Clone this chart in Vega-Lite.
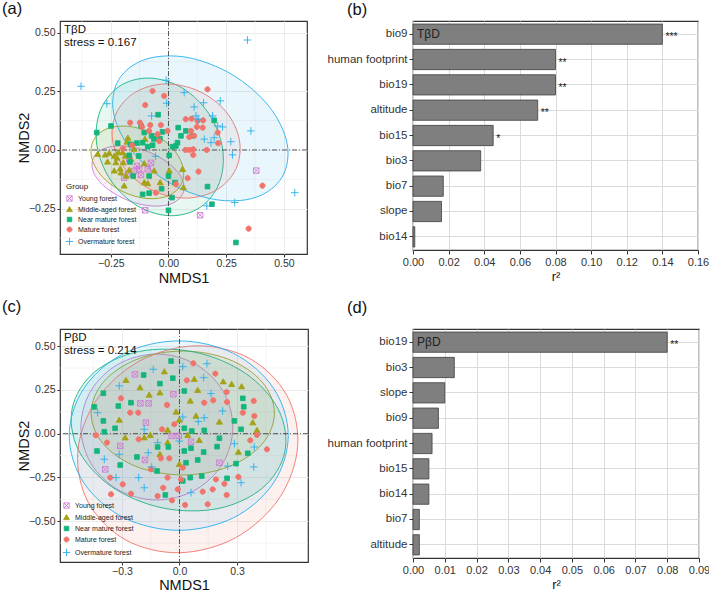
{
"$schema": "https://vega.github.io/schema/vega-lite/v6.json",
"padding": {"left": 1, "top": 0, "right": 0, "bottom": 0},
"background": "white",
"bounds": "flush",
"columns": 2,
"spacing": {"row": 75, "column": 105},
"config": {
  "font": "Liberation Sans",
  "view": {"stroke": "#333333", "strokeWidth": 1.2},
  "axis": {"domain": false, "tickColor": "#333333", "labelColor": "#333333", "titleColor": "#111111", "gridColor": "#EBEBEB", "titleFontWeight": "normal", "labelOverlap": false},
  "title": {"font": "Liberation Sans", "fontWeight": "normal", "color": "#111111"}
},
"resolve": {
  "scale": {"x": "independent", "y": "independent", "fill": "independent", "stroke": "independent", "shape": "independent"},
  "legend": {"fill": "independent", "stroke": "independent", "shape": "independent"}
},
"datasets": {
  "minorA": [{"m": -0.375}, {"m": -0.125}, {"m": 0.125}, {"m": 0.375}],
  "minorCx": [{"m": -0.45}, {"m": -0.15}, {"m": 0.15}, {"m": 0.45}],
  "minorCy": [{"m": -0.625}, {"m": -0.375}, {"m": -0.125}, {"m": 0.125}, {"m": 0.375}],
  "ellA": [
    {"g":"Young forest","i":0,"x":0.063,"y":-0.184},{"g":"Young forest","i":1,"x":0.017,"y":-0.227},{"g":"Young forest","i":2,"x":-0.069,"y":-0.239},{"g":"Young forest","i":3,"x":-0.172,"y":-0.216},{"g":"Young forest","i":4,"x":-0.265,"y":-0.165},{"g":"Young forest","i":5,"x":-0.322,"y":-0.101},{"g":"Young forest","i":6,"x":-0.327,"y":-0.038},{"g":"Young forest","i":7,"x":-0.281,"y":0.005},{"g":"Young forest","i":8,"x":-0.195,"y":0.017},{"g":"Young forest","i":9,"x":-0.092,"y":-0.006},{"g":"Young forest","i":10,"x":0.001,"y":-0.057},{"g":"Young forest","i":11,"x":0.058,"y":-0.121},
    {"g":"Middle-aged forest","i":0,"x":0.056,"y":-0.145},{"g":"Middle-aged forest","i":1,"x":0.0,"y":-0.195},{"g":"Middle-aged forest","i":2,"x":-0.093,"y":-0.207},{"g":"Middle-aged forest","i":3,"x":-0.197,"y":-0.178},{"g":"Middle-aged forest","i":4,"x":-0.285,"y":-0.116},{"g":"Middle-aged forest","i":5,"x":-0.332,"y":-0.036},{"g":"Middle-aged forest","i":6,"x":-0.326,"y":0.039},{"g":"Middle-aged forest","i":7,"x":-0.27,"y":0.089},{"g":"Middle-aged forest","i":8,"x":-0.177,"y":0.101},{"g":"Middle-aged forest","i":9,"x":-0.073,"y":0.072},{"g":"Middle-aged forest","i":10,"x":0.015,"y":0.01},{"g":"Middle-aged forest","i":11,"x":0.062,"y":-0.07},
    {"g":"Near mature forest","i":0,"x":0.138,"y":-0.244},{"g":"Near mature forest","i":1,"x":0.008,"y":-0.28},{"g":"Near mature forest","i":2,"x":-0.135,"y":-0.238},{"g":"Near mature forest","i":3,"x":-0.251,"y":-0.128},{"g":"Near mature forest","i":4,"x":-0.31,"y":0.019},{"g":"Near mature forest","i":5,"x":-0.297,"y":0.164},{"g":"Near mature forest","i":6,"x":-0.214,"y":0.27},{"g":"Near mature forest","i":7,"x":-0.084,"y":0.306},{"g":"Near mature forest","i":8,"x":0.059,"y":0.264},{"g":"Near mature forest","i":9,"x":0.175,"y":0.154},{"g":"Near mature forest","i":10,"x":0.234,"y":0.007},{"g":"Near mature forest","i":11,"x":0.221,"y":-0.138},
    {"g":"Mature forest","i":0,"x":0.293,"y":-0.079},{"g":"Mature forest","i":1,"x":0.209,"y":-0.17},{"g":"Mature forest","i":2,"x":0.078,"y":-0.205},{"g":"Mature forest","i":3,"x":-0.066,"y":-0.174},{"g":"Mature forest","i":4,"x":-0.183,"y":-0.087},{"g":"Mature forest","i":5,"x":-0.241,"y":0.033},{"g":"Mature forest","i":6,"x":-0.227,"y":0.155},{"g":"Mature forest","i":7,"x":-0.143,"y":0.246},{"g":"Mature forest","i":8,"x":-0.012,"y":0.281},{"g":"Mature forest","i":9,"x":0.132,"y":0.25},{"g":"Mature forest","i":10,"x":0.249,"y":0.163},{"g":"Mature forest","i":11,"x":0.307,"y":0.043},
    {"g":"Overmature forest","i":0,"x":0.492,"y":-0.116},{"g":"Overmature forest","i":1,"x":0.375,"y":-0.203},{"g":"Overmature forest","i":2,"x":0.195,"y":-0.21},{"g":"Overmature forest","i":3,"x":-0.001,"y":-0.137},{"g":"Overmature forest","i":4,"x":-0.159,"y":-0.003},{"g":"Overmature forest","i":5,"x":-0.238,"y":0.157},{"g":"Overmature forest","i":6,"x":-0.216,"y":0.299},{"g":"Overmature forest","i":7,"x":-0.099,"y":0.386},{"g":"Overmature forest","i":8,"x":0.081,"y":0.394},{"g":"Overmature forest","i":9,"x":0.277,"y":0.32},{"g":"Overmature forest","i":10,"x":0.435,"y":0.186},{"g":"Overmature forest","i":11,"x":0.514,"y":0.027}
  ],
  "ptsA": [
    {"g":"Young forest","x":-0.09,"y":-0.082},{"g":"Young forest","x":-0.119,"y":-0.106},{"g":"Young forest","x":-0.148,"y":-0.089},{"g":"Young forest","x":-0.177,"y":-0.103},{"g":"Young forest","x":-0.192,"y":-0.118},{"g":"Young forest","x":-0.17,"y":-0.04},{"g":"Young forest","x":-0.127,"y":-0.082},{"g":"Young forest","x":-0.101,"y":-0.257},{"g":"Young forest","x":0.137,"y":-0.278},{"g":"Young forest","x":0.38,"y":-0.088},{"g":"Young forest","x":-0.076,"y":-0.055},{"g":"Young forest","x":-0.137,"y":-0.068},
    {"g":"Middle-aged forest","x":-0.18,"y":0.034},{"g":"Middle-aged forest","x":-0.218,"y":-0.011},{"g":"Middle-aged forest","x":-0.199,"y":-0.011},{"g":"Middle-aged forest","x":-0.257,"y":-0.014},{"g":"Middle-aged forest","x":-0.235,"y":-0.026},{"g":"Middle-aged forest","x":-0.223,"y":-0.034},{"g":"Middle-aged forest","x":-0.187,"y":-0.026},{"g":"Middle-aged forest","x":-0.264,"y":-0.051},{"g":"Middle-aged forest","x":-0.228,"y":-0.054},{"g":"Middle-aged forest","x":-0.196,"y":-0.054},{"g":"Middle-aged forest","x":-0.163,"y":-0.04},{"g":"Middle-aged forest","x":-0.209,"y":-0.08},{"g":"Middle-aged forest","x":-0.235,"y":-0.089},{"g":"Middle-aged forest","x":-0.206,"y":-0.097},{"g":"Middle-aged forest","x":-0.17,"y":-0.086},{"g":"Middle-aged forest","x":-0.062,"y":-0.089},{"g":"Middle-aged forest","x":-0.184,"y":-0.111},{"g":"Middle-aged forest","x":-0.105,"y":-0.139},{"g":"Middle-aged forest","x":-0.036,"y":-0.139},{"g":"Middle-aged forest","x":-0.192,"y":-0.153},{"g":"Middle-aged forest","x":-0.307,"y":-0.018},{"g":"Middle-aged forest","x":-0.274,"y":-0.021},{"g":"Middle-aged forest","x":-0.176,"y":0.051},{"g":"Middle-aged forest","x":-0.102,"y":0.046},{"g":"Middle-aged forest","x":-0.105,"y":-0.058},{"g":"Middle-aged forest","x":-0.09,"y":-0.143},{"g":"Middle-aged forest","x":0.061,"y":-0.082},{"g":"Middle-aged forest","x":0.065,"y":-0.16},{"g":"Middle-aged forest","x":0.003,"y":-0.089},{"g":"Middle-aged forest","x":-0.15,"y":0.004},
    {"g":"Near mature forest","x":-0.311,"y":0.074},{"g":"Near mature forest","x":-0.249,"y":0.102},{"g":"Near mature forest","x":-0.045,"y":0.15},{"g":"Near mature forest","x":-0.119,"y":0.102},{"g":"Near mature forest","x":-0.073,"y":0.06},{"g":"Near mature forest","x":-0.063,"y":0.047},{"g":"Near mature forest","x":-0.105,"y":0.074},{"g":"Near mature forest","x":-0.026,"y":0.077},{"g":"Near mature forest","x":-0.037,"y":0.048},{"g":"Near mature forest","x":-0.163,"y":0.024},{"g":"Near mature forest","x":-0.137,"y":0.029},{"g":"Near mature forest","x":-0.112,"y":0.031},{"g":"Near mature forest","x":-0.09,"y":0.014},{"g":"Near mature forest","x":-0.069,"y":0.02},{"g":"Near mature forest","x":-0.22,"y":0.029},{"g":"Near mature forest","x":-0.17,"y":-0.023},{"g":"Near mature forest","x":-0.129,"y":-0.026},{"g":"Near mature forest","x":0.003,"y":-0.023},{"g":"Near mature forest","x":-0.167,"y":-0.051},{"g":"Near mature forest","x":-0.153,"y":-0.111},{"g":"Near mature forest","x":-0.084,"y":-0.111},{"g":"Near mature forest","x":-0.112,"y":-0.189},{"g":"Near mature forest","x":-0.084,"y":-0.184},{"g":"Near mature forest","x":-0.03,"y":-0.165},{"g":"Near mature forest","x":0.015,"y":-0.203},{"g":"Near mature forest","x":0.0,"y":-0.257},{"g":"Near mature forest","x":0.0,"y":-0.111},{"g":"Near mature forest","x":0.198,"y":0.126},{"g":"Near mature forest","x":0.042,"y":0.095},{"g":"Near mature forest","x":0.075,"y":0.081},{"g":"Near mature forest","x":0.104,"y":0.06},{"g":"Near mature forest","x":0.054,"y":0.06},{"g":"Near mature forest","x":0.039,"y":0.031},{"g":"Near mature forest","x":0.018,"y":0.014},{"g":"Near mature forest","x":0.032,"y":0.017},{"g":"Near mature forest","x":0.028,"y":-0.139},{"g":"Near mature forest","x":0.169,"y":-0.156},{"g":"Near mature forest","x":0.188,"y":-0.231},{"g":"Near mature forest","x":0.292,"y":-0.394},
    {"g":"Mature forest","x":-0.069,"y":0.251},{"g":"Mature forest","x":-0.019,"y":0.23},{"g":"Mature forest","x":0.169,"y":0.258},{"g":"Mature forest","x":-0.101,"y":0.191},{"g":"Mature forest","x":-0.166,"y":0.116},{"g":"Mature forest","x":-0.124,"y":0.116},{"g":"Mature forest","x":-0.079,"y":0.106},{"g":"Mature forest","x":-0.033,"y":0.106},{"g":"Mature forest","x":-0.115,"y":0.098},{"g":"Mature forest","x":-0.047,"y":0.067},{"g":"Mature forest","x":-0.004,"y":0.081},{"g":"Mature forest","x":-0.197,"y":0.006},{"g":"Mature forest","x":-0.158,"y":0.02},{"g":"Mature forest","x":-0.084,"y":0.081},{"g":"Mature forest","x":-0.055,"y":-0.182},{"g":"Mature forest","x":0.032,"y":-0.146},{"g":"Mature forest","x":0.075,"y":0.131},{"g":"Mature forest","x":0.1,"y":0.133},{"g":"Mature forest","x":0.126,"y":0.123},{"g":"Mature forest","x":0.15,"y":0.126},{"g":"Mature forest","x":0.097,"y":0.081},{"g":"Mature forest","x":0.123,"y":0.098},{"g":"Mature forest","x":0.148,"y":0.095},{"g":"Mature forest","x":0.09,"y":0.055},{"g":"Mature forest","x":0.111,"y":0.06},{"g":"Mature forest","x":0.213,"y":0.074},{"g":"Mature forest","x":0.215,"y":0.029},{"g":"Mature forest","x":0.074,"y":0.0},{"g":"Mature forest","x":0.09,"y":0.0},{"g":"Mature forest","x":0.107,"y":0.003},{"g":"Mature forest","x":0.166,"y":0.0},{"g":"Mature forest","x":0.107,"y":-0.021},{"g":"Mature forest","x":0.13,"y":-0.092},{"g":"Mature forest","x":0.083,"y":-0.12},{"g":"Mature forest","x":0.407,"y":-0.152},{"g":"Mature forest","x":0.347,"y":-0.335},{"g":"Mature forest","x":-0.04,"y":0.038},
    {"g":"Overmature forest","x":0.342,"y":0.468},{"g":"Overmature forest","x":-0.379,"y":0.271},{"g":"Overmature forest","x":-0.267,"y":0.197},{"g":"Overmature forest","x":-0.01,"y":0.297},{"g":"Overmature forest","x":-0.008,"y":0.199},{"g":"Overmature forest","x":0.068,"y":0.244},{"g":"Overmature forest","x":-0.073,"y":0.145},{"g":"Overmature forest","x":0.111,"y":0.183},{"g":"Overmature forest","x":0.152,"y":0.201},{"g":"Overmature forest","x":0.224,"y":0.209},{"g":"Overmature forest","x":0.119,"y":0.145},{"g":"Overmature forest","x":0.129,"y":0.131},{"g":"Overmature forest","x":0.191,"y":0.145},{"g":"Overmature forest","x":0.213,"y":0.102},{"g":"Overmature forest","x":0.234,"y":0.098},{"g":"Overmature forest","x":0.155,"y":0.046},{"g":"Overmature forest","x":0.198,"y":0.052},{"g":"Overmature forest","x":0.184,"y":0.031},{"g":"Overmature forest","x":0.27,"y":0.035},{"g":"Overmature forest","x":0.357,"y":0.081},{"g":"Overmature forest","x":0.277,"y":-0.021},{"g":"Overmature forest","x":-0.056,"y":-0.027},{"g":"Overmature forest","x":0.547,"y":-0.182},{"g":"Overmature forest","x":0.287,"y":-0.224},{"g":"Overmature forest","x":0.166,"y":-0.238}
  ],
  "ellC": [
    {"g":"Young forest","i":0,"x":0.278,"y":0.038},{"g":"Young forest","i":1,"x":0.225,"y":0.247},{"g":"Young forest","i":2,"x":0.08,"y":0.399},{"g":"Young forest","i":3,"x":-0.118,"y":0.455},{"g":"Young forest","i":4,"x":-0.316,"y":0.399},{"g":"Young forest","i":5,"x":-0.461,"y":0.247},{"g":"Young forest","i":6,"x":-0.514,"y":0.038},{"g":"Young forest","i":7,"x":-0.461,"y":-0.171},{"g":"Young forest","i":8,"x":-0.316,"y":-0.323},{"g":"Young forest","i":9,"x":-0.118,"y":-0.379},{"g":"Young forest","i":10,"x":0.08,"y":-0.323},{"g":"Young forest","i":11,"x":0.225,"y":-0.171},
    {"g":"Middle-aged forest","i":0,"x":0.495,"y":0.118},{"g":"Middle-aged forest","i":1,"x":0.431,"y":0.295},{"g":"Middle-aged forest","i":2,"x":0.256,"y":0.425},{"g":"Middle-aged forest","i":3,"x":0.017,"y":0.472},{"g":"Middle-aged forest","i":4,"x":-0.222,"y":0.425},{"g":"Middle-aged forest","i":5,"x":-0.397,"y":0.295},{"g":"Middle-aged forest","i":6,"x":-0.461,"y":0.118},{"g":"Middle-aged forest","i":7,"x":-0.397,"y":-0.059},{"g":"Middle-aged forest","i":8,"x":-0.222,"y":-0.189},{"g":"Middle-aged forest","i":9,"x":0.017,"y":-0.236},{"g":"Middle-aged forest","i":10,"x":0.256,"y":-0.189},{"g":"Middle-aged forest","i":11,"x":0.431,"y":-0.059},
    {"g":"Near mature forest","i":0,"x":0.549,"y":-0.104},{"g":"Near mature forest","i":1,"x":0.433,"y":-0.31},{"g":"Near mature forest","i":2,"x":0.2,"y":-0.428},{"g":"Near mature forest","i":3,"x":-0.089,"y":-0.424},{"g":"Near mature forest","i":4,"x":-0.355,"y":-0.302},{"g":"Near mature forest","i":5,"x":-0.527,"y":-0.093},{"g":"Near mature forest","i":6,"x":-0.559,"y":0.146},{"g":"Near mature forest","i":7,"x":-0.443,"y":0.352},{"g":"Near mature forest","i":8,"x":-0.209,"y":0.47},{"g":"Near mature forest","i":9,"x":0.079,"y":0.466},{"g":"Near mature forest","i":10,"x":0.345,"y":0.344},{"g":"Near mature forest","i":11,"x":0.517,"y":0.135},
    {"g":"Mature forest","i":0,"x":0.56,"y":0.218},{"g":"Mature forest","i":1,"x":0.616,"y":-0.075},{"g":"Mature forest","i":2,"x":0.518,"y":-0.372},{"g":"Mature forest","i":3,"x":0.293,"y":-0.594},{"g":"Mature forest","i":4,"x":0.001,"y":-0.68},{"g":"Mature forest","i":5,"x":-0.279,"y":-0.608},{"g":"Mature forest","i":6,"x":-0.474,"y":-0.396},{"g":"Mature forest","i":7,"x":-0.53,"y":-0.103},{"g":"Mature forest","i":8,"x":-0.432,"y":0.194},{"g":"Mature forest","i":9,"x":-0.207,"y":0.416},{"g":"Mature forest","i":10,"x":0.085,"y":0.502},{"g":"Mature forest","i":11,"x":0.365,"y":0.43},
    {"g":"Overmature forest","i":0,"x":0.567,"y":-0.011},{"g":"Overmature forest","i":1,"x":0.49,"y":0.26},{"g":"Overmature forest","i":2,"x":0.282,"y":0.458},{"g":"Overmature forest","i":3,"x":-0.004,"y":0.53},{"g":"Overmature forest","i":4,"x":-0.29,"y":0.458},{"g":"Overmature forest","i":5,"x":-0.498,"y":0.26},{"g":"Overmature forest","i":6,"x":-0.575,"y":-0.011},{"g":"Overmature forest","i":7,"x":-0.498,"y":-0.282},{"g":"Overmature forest","i":8,"x":-0.29,"y":-0.48},{"g":"Overmature forest","i":9,"x":-0.004,"y":-0.552},{"g":"Overmature forest","i":10,"x":0.282,"y":-0.48},{"g":"Overmature forest","i":11,"x":0.49,"y":-0.282}
  ],
  "ptsC": [
    {"g":"Young forest","x":-0.232,"y":0.339},{"g":"Young forest","x":-0.204,"y":0.173},{"g":"Young forest","x":-0.161,"y":0.173},{"g":"Young forest","x":-0.032,"y":0.225},{"g":"Young forest","x":-0.175,"y":0.063},{"g":"Young forest","x":-0.041,"y":-0.013},{"g":"Young forest","x":-0.004,"y":-0.013},{"g":"Young forest","x":0.06,"y":-0.046},{"g":"Young forest","x":-0.309,"y":-0.07},{"g":"Young forest","x":-0.18,"y":-0.15},{"g":"Young forest","x":-0.387,"y":-0.204},{"g":"Young forest","x":0.208,"y":-0.166},
    {"g":"Middle-aged forest","x":-0.279,"y":0.305},{"g":"Middle-aged forest","x":-0.079,"y":0.354},{"g":"Middle-aged forest","x":-0.206,"y":0.263},{"g":"Middle-aged forest","x":-0.158,"y":0.221},{"g":"Middle-aged forest","x":-0.102,"y":0.234},{"g":"Middle-aged forest","x":-0.314,"y":0.078},{"g":"Middle-aged forest","x":-0.018,"y":0.124},{"g":"Middle-aged forest","x":-0.001,"y":0.078},{"g":"Middle-aged forest","x":-0.062,"y":0.021},{"g":"Middle-aged forest","x":-0.152,"y":-0.009},{"g":"Middle-aged forest","x":-0.283,"y":-0.023},{"g":"Middle-aged forest","x":-0.062,"y":-0.051},{"g":"Middle-aged forest","x":-0.102,"y":-0.118},{"g":"Middle-aged forest","x":-0.001,"y":-0.175},{"g":"Middle-aged forest","x":0.077,"y":0.311},{"g":"Middle-aged forest","x":0.228,"y":0.297},{"g":"Middle-aged forest","x":0.272,"y":0.282},{"g":"Middle-aged forest","x":0.324,"y":0.269},{"g":"Middle-aged forest","x":0.095,"y":0.248},{"g":"Middle-aged forest","x":0.056,"y":0.187},{"g":"Middle-aged forest","x":0.086,"y":0.101},{"g":"Middle-aged forest","x":0.208,"y":0.067},{"g":"Middle-aged forest","x":0.382,"y":0.063},{"g":"Middle-aged forest","x":0.404,"y":0.019},{"g":"Middle-aged forest","x":0.043,"y":-0.009},{"g":"Middle-aged forest","x":0.103,"y":-0.038},{"g":"Middle-aged forest","x":0.307,"y":-0.105},{"g":"Middle-aged forest","x":-0.184,"y":-0.023},
    {"g":"Near mature forest","x":-0.044,"y":0.415},{"g":"Near mature forest","x":-0.035,"y":0.317},{"g":"Near mature forest","x":-0.102,"y":0.286},{"g":"Near mature forest","x":-0.397,"y":0.231},{"g":"Near mature forest","x":-0.319,"y":0.158},{"g":"Near mature forest","x":-0.253,"y":0.177},{"g":"Near mature forest","x":-0.397,"y":0.073},{"g":"Near mature forest","x":-0.336,"y":0.031},{"g":"Near mature forest","x":-0.392,"y":0.011},{"g":"Near mature forest","x":-0.43,"y":-0.099},{"g":"Near mature forest","x":-0.309,"y":-0.179},{"g":"Near mature forest","x":-0.222,"y":-0.133},{"g":"Near mature forest","x":-0.114,"y":-0.076},{"g":"Near mature forest","x":-0.058,"y":-0.076},{"g":"Near mature forest","x":-0.117,"y":-0.213},{"g":"Near mature forest","x":-0.074,"y":-0.35},{"g":"Near mature forest","x":0.017,"y":-0.27},{"g":"Near mature forest","x":0.025,"y":0.244},{"g":"Near mature forest","x":0.025,"y":-0.099},{"g":"Near mature forest","x":0.33,"y":0.202},{"g":"Near mature forest","x":0.335,"y":0.154},{"g":"Near mature forest","x":0.286,"y":0.073},{"g":"Near mature forest","x":0.321,"y":0.025},{"g":"Near mature forest","x":0.025,"y":0.031},{"g":"Near mature forest","x":0.064,"y":0.015},{"g":"Near mature forest","x":0.129,"y":0.019},{"g":"Near mature forest","x":0.208,"y":-0.026},{"g":"Near mature forest","x":0.196,"y":-0.074},{"g":"Near mature forest","x":0.06,"y":-0.083},{"g":"Near mature forest","x":0.126,"y":-0.105},{"g":"Near mature forest","x":0.356,"y":-0.112},{"g":"Near mature forest","x":0.034,"y":-0.166},{"g":"Near mature forest","x":0.095,"y":-0.15},{"g":"Near mature forest","x":0.295,"y":-0.171},{"g":"Near mature forest","x":0.056,"y":-0.251},{"g":"Near mature forest","x":0.116,"y":-0.242},{"g":"Near mature forest","x":0.248,"y":-0.255},{"g":"Near mature forest","x":-0.444,"y":0.153},{"g":"Near mature forest","x":-0.187,"y":0.335},
    {"g":"Mature forest","x":-0.305,"y":0.202},{"g":"Mature forest","x":-0.257,"y":0.12},{"g":"Mature forest","x":-0.215,"y":0.12},{"g":"Mature forest","x":-0.065,"y":0.164},{"g":"Mature forest","x":-0.091,"y":0.025},{"g":"Mature forest","x":-0.027,"y":0.054},{"g":"Mature forest","x":-0.213,"y":-0.032},{"g":"Mature forest","x":-0.436,"y":-0.009},{"g":"Mature forest","x":-0.378,"y":-0.051},{"g":"Mature forest","x":-0.097,"y":-0.141},{"g":"Mature forest","x":-0.053,"y":-0.141},{"g":"Mature forest","x":-0.149,"y":-0.203},{"g":"Mature forest","x":-0.062,"y":-0.251},{"g":"Mature forest","x":-0.361,"y":-0.251},{"g":"Mature forest","x":-0.296,"y":-0.289},{"g":"Mature forest","x":-0.253,"y":-0.343},{"g":"Mature forest","x":0.017,"y":-0.194},{"g":"Mature forest","x":-0.009,"y":-0.318},{"g":"Mature forest","x":-0.114,"y":-0.356},{"g":"Mature forest","x":-0.039,"y":-0.381},{"g":"Mature forest","x":-0.085,"y":-0.309},{"g":"Mature forest","x":0.072,"y":0.402},{"g":"Mature forest","x":0.187,"y":0.343},{"g":"Mature forest","x":0.038,"y":0.305},{"g":"Mature forest","x":0.246,"y":0.238},{"g":"Mature forest","x":0.129,"y":0.177},{"g":"Mature forest","x":0.176,"y":0.191},{"g":"Mature forest","x":0.248,"y":0.181},{"g":"Mature forest","x":0.387,"y":0.187},{"g":"Mature forest","x":0.33,"y":0.12},{"g":"Mature forest","x":0.39,"y":0.101},{"g":"Mature forest","x":0.369,"y":-0.038},{"g":"Mature forest","x":0.456,"y":-0.089},{"g":"Mature forest","x":0.404,"y":-0.007},{"g":"Mature forest","x":0.008,"y":-0.261},{"g":"Mature forest","x":0.19,"y":-0.261},{"g":"Mature forest","x":0.234,"y":-0.286},{"g":"Mature forest","x":0.307,"y":-0.247},{"g":"Mature forest","x":0.173,"y":-0.318},{"g":"Mature forest","x":0.121,"y":-0.331},{"g":"Mature forest","x":0.246,"y":-0.35},{"g":"Mature forest","x":0.147,"y":-0.403},{"g":"Mature forest","x":0.029,"y":-0.407},{"g":"Mature forest","x":-0.357,"y":-0.346},
    {"g":"Overmature forest","x":-0.137,"y":0.368},{"g":"Overmature forest","x":-0.314,"y":0.273},{"g":"Overmature forest","x":-0.427,"y":0.12},{"g":"Overmature forest","x":-0.184,"y":0.025},{"g":"Overmature forest","x":-0.114,"y":-0.051},{"g":"Overmature forest","x":-0.314,"y":-0.118},{"g":"Overmature forest","x":-0.163,"y":-0.109},{"g":"Overmature forest","x":-0.392,"y":-0.146},{"g":"Overmature forest","x":-0.145,"y":-0.19},{"g":"Overmature forest","x":-0.213,"y":-0.251},{"g":"Overmature forest","x":-0.184,"y":-0.309},{"g":"Overmature forest","x":-0.001,"y":-0.042},{"g":"Overmature forest","x":0.143,"y":0.4},{"g":"Overmature forest","x":0.164,"y":0.229},{"g":"Overmature forest","x":0.225,"y":0.13},{"g":"Overmature forest","x":0.129,"y":0.091},{"g":"Overmature forest","x":0.098,"y":0.069},{"g":"Overmature forest","x":0.017,"y":0.095},{"g":"Overmature forest","x":0.286,"y":-0.057},{"g":"Overmature forest","x":0.39,"y":-0.076},{"g":"Overmature forest","x":0.251,"y":-0.185},{"g":"Overmature forest","x":0.387,"y":-0.19},{"g":"Overmature forest","x":0.321,"y":-0.28},{"g":"Overmature forest","x":0.06,"y":-0.337},{"g":"Overmature forest","x":0.017,"y":0.383},{"g":"Overmature forest","x":0.126,"y":0.32},{"g":"Overmature forest","x":-0.331,"y":-0.251}
  ],
  "barB": [
    {"v":"bio9","r":0.14,"s":"***"},{"v":"human footprint","r":0.08,"s":"**"},{"v":"bio19","r":0.08,"s":"**"},{"v":"altitude","r":0.07,"s":"**"},{"v":"bio15","r":0.045,"s":"*"},{"v":"bio3","r":0.038,"s":""},{"v":"bio7","r":0.017,"s":""},{"v":"slope","r":0.016,"s":""},{"v":"bio14","r":0.001,"s":""}
  ],
  "barD": [
    {"v":"bio19","r":0.08,"s":"**"},{"v":"bio3","r":0.013,"s":""},{"v":"slope","r":0.01,"s":""},{"v":"bio9","r":0.008,"s":""},{"v":"human footprint","r":0.006,"s":""},{"v":"bio15","r":0.005,"s":""},{"v":"bio14","r":0.005,"s":""},{"v":"bio7","r":0.002,"s":""},{"v":"altitude","r":0.002,"s":""}
  ]
},
"concat": [
  {
    "width": 247, "height": 233,
    "title": {"text": "(a)", "anchor": "start", "frame": "group", "dx": -58, "offset": -10, "baseline": "alphabetic", "fontSize": 16.5},
    "resolve": {"scale": {"fill": "independent", "stroke": "independent", "shape": "independent"}, "legend": {"fill": "independent", "stroke": "independent", "shape": "independent"}},
    "layer": [
      {
        "data": {"name": "minorA"},
        "mark": {"type": "rule", "color": "#EFEFEF", "strokeWidth": 0.6},
        "encoding": {"x": {"field": "m", "type": "quantitative", "title": "NMDS1", "scale": {"domain": [-0.47, 0.6], "nice": false, "zero": false}}}
      },
      {
        "data": {"name": "minorA"},
        "mark": {"type": "rule", "color": "#EFEFEF", "strokeWidth": 0.6},
        "encoding": {"y": {"field": "m", "type": "quantitative", "title": "NMDS2", "scale": {"domain": [-0.443, 0.549], "nice": false, "zero": false}}}
      },
      {
        "data": {"name": "ellA"},
        "mark": {"type": "line", "interpolate": "cardinal-closed", "fillOpacity": 0.1, "strokeWidth": 0.9},
        "encoding": {
          "x": {"field": "x", "type": "quantitative", "title": "NMDS1", "scale": {"domain": [-0.47, 0.6], "nice": false, "zero": false},
                "axis": {"values": [-0.25, 0, 0.25, 0.5], "format": ".2f", "grid": true, "labelOverlap": false, "labelFontSize": 10.5, "titleFontSize": 14.5, "tickSize": 3, "labelPadding": 1, "titlePadding": 3}},
          "y": {"field": "y", "type": "quantitative", "title": "NMDS2", "scale": {"domain": [-0.443, 0.549], "nice": false, "zero": false},
                "axis": {"values": [-0.25, 0, 0.25, 0.5], "format": ".2f", "grid": true, "labelOverlap": false, "labelFontSize": 10.5, "titleFontSize": 14.5, "tickSize": 3, "labelPadding": 2, "titlePadding": -3}},
          "order": {"field": "i", "type": "quantitative"},
          "stroke": {"field": "g", "type": "nominal", "scale": {"domain": ["Young forest","Middle-aged forest","Near mature forest","Mature forest","Overmature forest"], "range": ["#D07BD5","#A3A315","#14B57C","#F0746B","#29AFEC"]}, "legend": null},
          "fill": {"field": "g", "type": "nominal", "scale": {"domain": ["Young forest","Middle-aged forest","Near mature forest","Mature forest","Overmature forest"], "range": ["#D07BD5","#A3A315","#14B57C","#F0746B","#29AFEC"]}, "legend": null}
        }
      },
      {
        "data": {"values": [{}]},
        "mark": {"type": "rule", "strokeDash": [5, 2, 1, 2], "color": "#333333", "strokeWidth": 0.8},
        "encoding": {"x": {"datum": 0, "type": "quantitative", "scale": {"domain": [-0.47, 0.6], "nice": false, "zero": false}}}
      },
      {
        "data": {"values": [{}]},
        "mark": {"type": "rule", "strokeDash": [5, 2, 1, 2], "color": "#333333", "strokeWidth": 0.8},
        "encoding": {"y": {"datum": 0, "type": "quantitative", "scale": {"domain": [-0.443, 0.549], "nice": false, "zero": false}}}
      },
      {
        "data": {"name": "ptsA"},
        "mark": {"type": "point", "filled": true, "opacity": 1, "size": 30, "strokeWidth": 0.9},
        "encoding": {
          "x": {"field": "x", "type": "quantitative", "title": "NMDS1", "scale": {"domain": [-0.47, 0.6], "nice": false, "zero": false}},
          "y": {"field": "y", "type": "quantitative", "title": "NMDS2", "scale": {"domain": [-0.443, 0.549], "nice": false, "zero": false}},
          "shape": {"field": "g", "type": "nominal", "scale": {"domain": ["Young forest","Middle-aged forest","Near mature forest","Mature forest","Overmature forest"], "range": ["M-1,-1H1M1,-1V1M1,1H-1M-1,1V-1M-1,-1L1,1M1,-1L-1,1", "M0,-1.1L1.1,0.8L-1.1,0.8Z", "M-0.85,-0.85H0.85V0.85H-0.85Z", "M0.95,0A0.95,0.95,0,1,1,-0.95,0A0.95,0.95,0,1,1,0.95,0Z", "M-1.4,0H1.4M0,-1.4V1.4"]},
                    "legend": {"orient": "bottom-left", "offset": 4, "padding": 2, "title": "Group", "titleFontSize": 8, "titleFontWeight": "normal", "titleColor": "#222222", "labelFontSize": 7, "labelColor": "#222222", "symbolSize": 28, "symbolStrokeWidth": 0.9, "rowPadding": 1, "titlePadding": 4, "labelOffset": 5}},
          "fill": {"field": "g", "type": "nominal", "scale": {"domain": ["Young forest","Middle-aged forest","Near mature forest","Mature forest","Overmature forest"], "range": ["#D07BD5","#A3A315","#14B57C","#F0746B","#29AFEC"]},
                    "legend": {"orient": "bottom-left", "offset": 4, "padding": 2, "title": "Group", "titleFontSize": 8, "titleFontWeight": "normal", "titleColor": "#222222", "labelFontSize": 7, "labelColor": "#222222", "symbolSize": 28, "symbolStrokeWidth": 0.9, "rowPadding": 1, "titlePadding": 4, "labelOffset": 5}},
          "stroke": {"field": "g", "type": "nominal", "scale": {"domain": ["Young forest","Middle-aged forest","Near mature forest","Mature forest","Overmature forest"], "range": ["#D07BD5","#A3A315","#14B57C","#F0746B","#29AFEC"]},
                    "legend": {"orient": "bottom-left", "offset": 4, "padding": 2, "title": "Group", "titleFontSize": 8, "titleFontWeight": "normal", "titleColor": "#222222", "labelFontSize": 7, "labelColor": "#222222", "symbolSize": 28, "symbolStrokeWidth": 0.9, "rowPadding": 1, "titlePadding": 4, "labelOffset": 5}}
        }
      },
      {
        "data": {"values": [{}]},
        "mark": {"type": "text", "text": ["TβD", "stress = 0.167"], "align": "left", "baseline": "top", "dx": 4, "dy": 3, "fontSize": 11.5, "lineHeight": 13, "color": "#111111"},
        "encoding": {
          "x": {"datum": -0.47, "type": "quantitative", "scale": {"domain": [-0.47, 0.6], "nice": false, "zero": false}},
          "y": {"datum": 0.549, "type": "quantitative", "scale": {"domain": [-0.443, 0.549], "nice": false, "zero": false}}
        }
      }
    ]
  },
  {
    "width": 285, "height": 229,
    "data": {"name": "barB"},
    "title": {"text": "(b)", "anchor": "start", "frame": "group", "dx": -66, "offset": -10, "baseline": "alphabetic", "fontSize": 16.5},
    "layer": [
      {
        "mark": {"type": "bar", "fill": "#7F7F7F", "stroke": "#404040", "strokeWidth": 0.8},
        "encoding": {
          "y": {"field": "v", "type": "nominal", "scale": {"domain": ["bio9","human footprint","bio19","altitude","bio15","bio3","bio7","slope","bio14"], "paddingInner": 0.2, "paddingOuter": 0.12},
                "axis": {"title": null, "grid": true, "gridColor": "#DADADA", "bandPosition": 0.5, "labelFontSize": 11.5, "tickSize": 4, "labelPadding": 2}},
          "x": {"field": "r", "type": "quantitative", "scale": {"domain": [0, 0.16], "nice": false},
                "axis": {"tickCount": 8, "format": ".2f", "title": "r²", "grid": true, "gridColor": "#DADADA", "labelOverlap": false, "labelBound": false, "labelFlush": false, "labelFontSize": 11, "titleFontSize": 13, "tickSize": 4, "labelPadding": 2, "titlePadding": 3}}
        }
      },
      {
        "mark": {"type": "text", "align": "left", "baseline": "middle", "dx": 3, "dy": 3, "fontSize": 10.5, "color": "#222222"},
        "encoding": {
          "y": {"field": "v", "type": "nominal", "scale": {"domain": ["bio9","human footprint","bio19","altitude","bio15","bio3","bio7","slope","bio14"], "paddingInner": 0.2, "paddingOuter": 0.12}},
          "x": {"field": "r", "type": "quantitative", "scale": {"domain": [0, 0.16], "nice": false}},
          "text": {"field": "s"}
        }
      },
      {
        "data": {"values": [{}]},
        "mark": {"type": "text", "text": "TβD", "align": "left", "baseline": "middle", "dx": 4, "fontSize": 12, "color": "#222222"},
        "encoding": {
          "x": {"datum": 0, "type": "quantitative", "scale": {"domain": [0, 0.16], "nice": false}},
          "y": {"datum": "bio9", "type": "nominal", "scale": {"domain": ["bio9","human footprint","bio19","altitude","bio15","bio3","bio7","slope","bio14"], "paddingInner": 0.2, "paddingOuter": 0.12}}
        }
      }
    ]
  },
  {
    "width": 248, "height": 233,
    "title": {"text": "(c)", "anchor": "start", "frame": "group", "dx": -58, "offset": 0, "baseline": "alphabetic", "fontSize": 16.5},
    "resolve": {"scale": {"fill": "independent", "stroke": "independent", "shape": "independent"}, "legend": {"fill": "independent", "stroke": "independent", "shape": "independent"}},
    "layer": [
      {
        "data": {"name": "minorCx"},
        "mark": {"type": "rule", "color": "#EFEFEF", "strokeWidth": 0.6},
        "encoding": {"x": {"field": "m", "type": "quantitative", "title": "NMDS1", "scale": {"domain": [-0.623, 0.67], "nice": false, "zero": false}}}
      },
      {
        "data": {"name": "minorCy"},
        "mark": {"type": "rule", "color": "#EFEFEF", "strokeWidth": 0.6},
        "encoding": {"y": {"field": "m", "type": "quantitative", "title": "NMDS2", "scale": {"domain": [-0.733, 0.598], "nice": false, "zero": false}}}
      },
      {
        "data": {"name": "ellC"},
        "mark": {"type": "line", "interpolate": "cardinal-closed", "fillOpacity": 0.1, "strokeWidth": 0.9},
        "encoding": {
          "x": {"field": "x", "type": "quantitative", "title": "NMDS1", "scale": {"domain": [-0.623, 0.67], "nice": false, "zero": false},
                "axis": {"values": [-0.3, 0, 0.3], "format": ".1f", "grid": true, "labelOverlap": false, "labelFontSize": 10.5, "titleFontSize": 14.5, "tickSize": 3, "labelPadding": 1, "titlePadding": 2}},
          "y": {"field": "y", "type": "quantitative", "title": "NMDS2", "scale": {"domain": [-0.733, 0.598], "nice": false, "zero": false},
                "axis": {"values": [-0.5, -0.25, 0, 0.25, 0.5], "format": ".2f", "grid": true, "labelOverlap": false, "labelFontSize": 10.5, "titleFontSize": 14.5, "tickSize": 3, "labelPadding": 2, "titlePadding": -3}},
          "order": {"field": "i", "type": "quantitative"},
          "stroke": {"field": "g", "type": "nominal", "scale": {"domain": ["Young forest","Middle-aged forest","Near mature forest","Mature forest","Overmature forest"], "range": ["#D07BD5","#A3A315","#14B57C","#F0746B","#29AFEC"]}, "legend": null},
          "fill": {"field": "g", "type": "nominal", "scale": {"domain": ["Young forest","Middle-aged forest","Near mature forest","Mature forest","Overmature forest"], "range": ["#D07BD5","#A3A315","#14B57C","#F0746B","#29AFEC"]}, "legend": null}
        }
      },
      {
        "data": {"values": [{}]},
        "mark": {"type": "rule", "strokeDash": [5, 2, 1, 2], "color": "#333333", "strokeWidth": 0.8},
        "encoding": {"x": {"datum": 0, "type": "quantitative", "scale": {"domain": [-0.623, 0.67], "nice": false, "zero": false}}}
      },
      {
        "data": {"values": [{}]},
        "mark": {"type": "rule", "strokeDash": [5, 2, 1, 2], "color": "#333333", "strokeWidth": 0.8},
        "encoding": {"y": {"datum": 0, "type": "quantitative", "scale": {"domain": [-0.733, 0.598], "nice": false, "zero": false}}}
      },
      {
        "data": {"name": "ptsC"},
        "mark": {"type": "point", "filled": true, "opacity": 1, "size": 30, "strokeWidth": 0.9},
        "encoding": {
          "x": {"field": "x", "type": "quantitative", "title": "NMDS1", "scale": {"domain": [-0.623, 0.67], "nice": false, "zero": false}},
          "y": {"field": "y", "type": "quantitative", "title": "NMDS2", "scale": {"domain": [-0.733, 0.598], "nice": false, "zero": false}},
          "shape": {"field": "g", "type": "nominal", "scale": {"domain": ["Young forest","Middle-aged forest","Near mature forest","Mature forest","Overmature forest"], "range": ["M-1,-1H1M1,-1V1M1,1H-1M-1,1V-1M-1,-1L1,1M1,-1L-1,1", "M0,-1.1L1.1,0.8L-1.1,0.8Z", "M-0.85,-0.85H0.85V0.85H-0.85Z", "M0.95,0A0.95,0.95,0,1,1,-0.95,0A0.95,0.95,0,1,1,0.95,0Z", "M-1.4,0H1.4M0,-1.4V1.4"]},
                    "legend": {"orient": "bottom-left", "offset": 1, "padding": 2, "title": null, "labelFontSize": 7, "labelColor": "#222222", "symbolSize": 28, "symbolStrokeWidth": 0.9, "rowPadding": 2, "labelOffset": 5}},
          "fill": {"field": "g", "type": "nominal", "scale": {"domain": ["Young forest","Middle-aged forest","Near mature forest","Mature forest","Overmature forest"], "range": ["#D07BD5","#A3A315","#14B57C","#F0746B","#29AFEC"]},
                    "legend": {"orient": "bottom-left", "offset": 1, "padding": 2, "title": null, "labelFontSize": 7, "labelColor": "#222222", "symbolSize": 28, "symbolStrokeWidth": 0.9, "rowPadding": 2, "labelOffset": 5}},
          "stroke": {"field": "g", "type": "nominal", "scale": {"domain": ["Young forest","Middle-aged forest","Near mature forest","Mature forest","Overmature forest"], "range": ["#D07BD5","#A3A315","#14B57C","#F0746B","#29AFEC"]},
                    "legend": {"orient": "bottom-left", "offset": 1, "padding": 2, "title": null, "labelFontSize": 7, "labelColor": "#222222", "symbolSize": 28, "symbolStrokeWidth": 0.9, "rowPadding": 2, "labelOffset": 5}}
        }
      },
      {
        "data": {"values": [{}]},
        "mark": {"type": "text", "text": ["PβD", " stress = 0.214"], "align": "left", "baseline": "top", "dx": 4, "dy": 3, "fontSize": 11.5, "lineHeight": 13, "color": "#111111"},
        "encoding": {
          "x": {"datum": -0.623, "type": "quantitative", "scale": {"domain": [-0.623, 0.67], "nice": false, "zero": false}},
          "y": {"datum": 0.598, "type": "quantitative", "scale": {"domain": [-0.733, 0.598], "nice": false, "zero": false}}
        }
      }
    ]
  },
  {
    "width": 286, "height": 229,
    "data": {"name": "barD"},
    "title": {"text": "(d)", "anchor": "start", "frame": "group", "dx": -66, "offset": 0, "baseline": "alphabetic", "fontSize": 16.5},
    "layer": [
      {
        "mark": {"type": "bar", "fill": "#7F7F7F", "stroke": "#404040", "strokeWidth": 0.8},
        "encoding": {
          "y": {"field": "v", "type": "nominal", "scale": {"domain": ["bio19","bio3","slope","bio9","human footprint","bio15","bio14","bio7","altitude"], "paddingInner": 0.2, "paddingOuter": 0.12},
                "axis": {"title": null, "grid": true, "gridColor": "#DADADA", "bandPosition": 0.5, "labelFontSize": 11.5, "tickSize": 4, "labelPadding": 2}},
          "x": {"field": "r", "type": "quantitative", "scale": {"domain": [0, 0.09], "nice": false},
                "axis": {"tickCount": 9, "format": ".2f", "title": "r²", "grid": true, "gridColor": "#DADADA", "labelOverlap": false, "labelBound": false, "labelFlush": false, "labelFontSize": 11, "titleFontSize": 13, "tickSize": 4, "labelPadding": 2, "titlePadding": 3}}
        }
      },
      {
        "mark": {"type": "text", "align": "left", "baseline": "middle", "dx": 3, "dy": 3, "fontSize": 10.5, "color": "#222222"},
        "encoding": {
          "y": {"field": "v", "type": "nominal", "scale": {"domain": ["bio19","bio3","slope","bio9","human footprint","bio15","bio14","bio7","altitude"], "paddingInner": 0.2, "paddingOuter": 0.12}},
          "x": {"field": "r", "type": "quantitative", "scale": {"domain": [0, 0.09], "nice": false}},
          "text": {"field": "s"}
        }
      },
      {
        "data": {"values": [{}]},
        "mark": {"type": "text", "text": "PβD", "align": "left", "baseline": "middle", "dx": 4, "fontSize": 12, "color": "#222222"},
        "encoding": {
          "x": {"datum": 0, "type": "quantitative", "scale": {"domain": [0, 0.09], "nice": false}},
          "y": {"datum": "bio19", "type": "nominal", "scale": {"domain": ["bio19","bio3","slope","bio9","human footprint","bio15","bio14","bio7","altitude"], "paddingInner": 0.2, "paddingOuter": 0.12}}
        }
      }
    ]
  }
]
}
